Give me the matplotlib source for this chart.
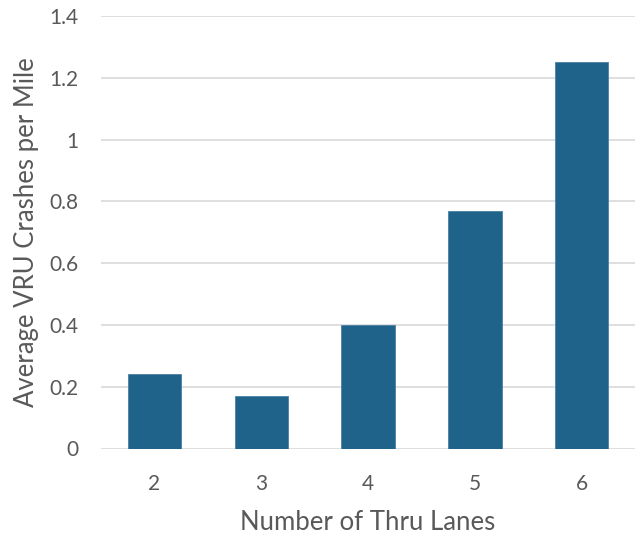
import matplotlib
matplotlib.use("Agg")
import matplotlib.pyplot as plt

categories = ["2", "3", "4", "5", "6"]
values = [0.24, 0.17, 0.40, 0.77, 1.25]
yticks = [0, 0.2, 0.4, 0.6, 0.8, 1, 1.2, 1.4]
ytick_labels = ["0", "0.2", "0.4", "0.6", "0.8", "1", "1.2", "1.4"]

plt.rcParams['font.family'] = ['Lato', 'DejaVu Sans']
text_color = "#595959"

fig = plt.figure(figsize=(6.35, 5.37), dpi=100)
ax = fig.add_axes([101/635, 1 - 448.5/537, 534/635, (448.5 - 16)/537])

x = list(range(len(categories)))
ax.bar(x, values, width=0.5, color="#1F638B", edgecolor="#4A7FA5", linewidth=0.6, zorder=3)

ax.set_xlim(-0.5, len(categories) - 0.5)
ax.set_ylim(0, 1.4)
ax.set_yticks(yticks)
ax.set_yticklabels(ytick_labels)
ax.set_xticks(x)
ax.set_xticklabels(categories)

ax.grid(axis="y", color="#D9D9D9", linewidth=1.2, zorder=0)
ax.set_axisbelow(True)
for s in ax.spines.values():
    s.set_visible(False)
ax.tick_params(axis="both", length=0, labelsize=15, colors=text_color)
ax.tick_params(axis="y", pad=16)
ax.tick_params(axis="x", pad=18)

ax.set_xlabel("Number of Thru Lanes", fontsize=18.5, color=text_color, labelpad=12)
ax.set_ylabel("Average VRU Crashes per Mile", fontsize=18.5, color=text_color, labelpad=8)

fig.savefig("out.png", dpi=100)
